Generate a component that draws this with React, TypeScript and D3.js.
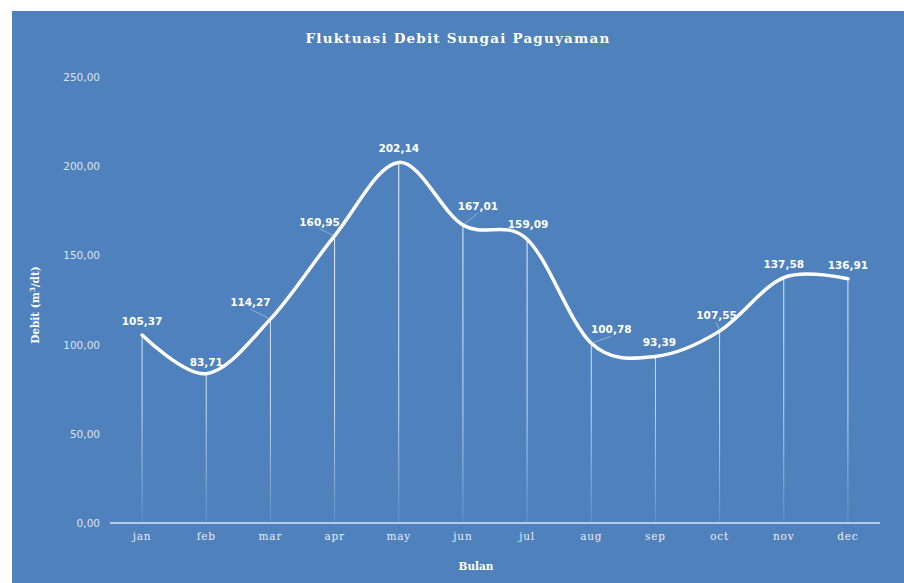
import React from "react";
import * as d3 from "d3";

const months = ["jan", "feb", "mar", "apr", "may", "jun", "jul", "aug", "sep", "oct", "nov", "dec"];
const debit = [105.37, 83.71, 114.27, 160.95, 202.14, 167.01, 159.09, 100.78, 93.39, 107.55, 137.58, 136.91];
const yTicks = [0, 50, 100, 150, 200, 250];

// label placement relative to each point: [dx, dy, leader line?]
const labelOffsets: [number, number, boolean][] = [
  [0, -14, false],
  [0, -12, false],
  [-20, -17, true],
  [-15, -14, true],
  [0, -14, false],
  [15, -19, true],
  [1, -15, false],
  [20, -14, true],
  [4, -14, false],
  [-3, -16, true],
  [0, -14, false],
  [0, -14, false],
];

const W = 904;
const H = 583;
const fmt = (v: number) => v.toFixed(2).replace(".", ",");

export default function App() {
  const x = d3.scaleBand<string>().domain(months).range([110, 880]);
  const y = d3.scaleLinear().domain([0, 250]).range([523, 77]);
  const cx = (m: string) => (x(m) ?? 0) + x.bandwidth() / 2;

  const line = d3
    .line<number>()
    .x((_, i) => cx(months[i]))
    .y((d) => y(d))
    .curve(d3.curveCatmullRom.alpha(0));

  return (
    <svg
      width={W}
      height={H}
      style={{ position: "absolute", left: 0, top: 0, display: "block" }}
    >
      <defs>
        <linearGradient id="dropFade" gradientUnits="userSpaceOnUse" x1="0" y1="150" x2="0" y2="523">
          <stop offset="0" stopColor="#ffffff" stopOpacity={0.95} />
          <stop offset="0.7" stopColor="#ffffff" stopOpacity={0.7} />
          <stop offset="1" stopColor="#ffffff" stopOpacity={0.12} />
        </linearGradient>
      </defs>
      <rect x={0} y={0} width={W} height={H} fill="#ffffff" />
      <rect x={12} y={11} width={W - 12} height={H - 11} fill="#4F81BD" />

      <text
        x={458}
        y={43}
        textAnchor="middle"
        fill="#ffffff"
        fontFamily="'DejaVu Serif', serif"
        fontWeight="bold"
        fontSize={13.5}
        letterSpacing={1.2}
      >
        Fluktuasi Debit Sungai Paguyaman
      </text>

      {/* y tick labels */}
      {yTicks.map((t) => (
        <text
          key={t}
          x={100}
          y={y(t) + 4}
          textAnchor="end"
          fill="#DCE3EE"
          fontFamily="'DejaVu Sans', sans-serif"
          fontSize={10.5}
        >
          {fmt(t)}
        </text>
      ))}

      {/* y axis title */}
      <text
        transform={`translate(39,305) rotate(-90)`}
        textAnchor="middle"
        fill="#ffffff"
        fontFamily="'DejaVu Serif', serif"
        fontWeight="bold"
        fontSize={10.5}
      >
        Debit (m<tspan fontSize={7} dy={-4}>3</tspan>
        <tspan dy={4}>/dt)</tspan>
      </text>

      {/* drop lines */}
      {debit.map((v, i) => (
        <line
          key={months[i]}
          x1={cx(months[i])}
          x2={cx(months[i])}
          y1={y(v)}
          y2={y(0)}
          stroke="url(#dropFade)"
          strokeWidth={1}
        />
      ))}

      {/* x axis */}
      <line x1={110} x2={880} y1={y(0)} y2={y(0)} stroke="#DCE3EE" strokeWidth={1.3} />
      {months.map((m) => (
        <text
          key={m}
          x={cx(m)}
          y={540}
          textAnchor="middle"
          fill="#E8EDF5"
          fontFamily="'DejaVu Serif', serif"
          fontSize={10.5}
          letterSpacing={0.8}
        >
          {m}
        </text>
      ))}
      <text
        x={476}
        y={570}
        textAnchor="middle"
        fill="#ffffff"
        fontFamily="'DejaVu Serif', serif"
        fontWeight="bold"
        fontSize={10.5}
      >
        Bulan
      </text>

      {/* series */}
      <path d={line(debit) ?? ""} fill="none" stroke="#ffffff" strokeWidth={3.5} strokeLinecap="round" />

      {/* data labels */}
      {debit.map((v, i) => {
        const px = cx(months[i]);
        const py = y(v);
        const [dx, dy, leader] = labelOffsets[i];
        const lx = px + dx;
        const ly = py + dy;
        return (
          <g key={"l" + months[i]}>
            {leader && (
              <line
                x1={px}
                y1={py}
                x2={lx}
                y2={ly + 7}
                stroke="#C8D4E6"
                strokeOpacity={0.7}
                strokeWidth={0.8}
              />
            )}
            <text
              x={lx}
              y={ly + 4}
              textAnchor="middle"
              fill="#ffffff"
              fontFamily="'DejaVu Sans', sans-serif"
              fontWeight="bold"
              fontSize={10.5}
            >
              {fmt(v)}
            </text>
          </g>
        );
      })}
    </svg>
  );
}
